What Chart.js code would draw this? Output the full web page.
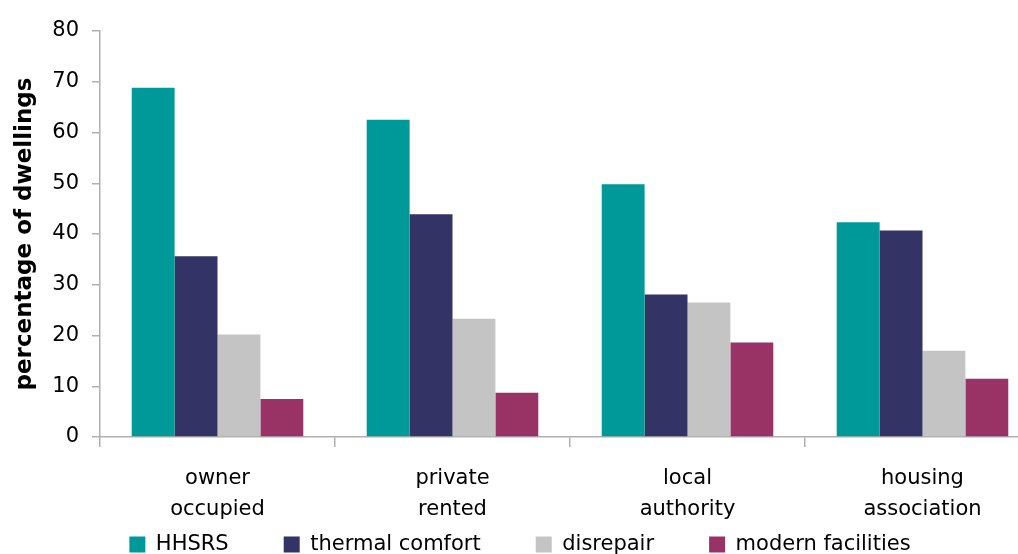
<!DOCTYPE html>
<html>
<head>
<meta charset="utf-8">
<script src="https://cdn.jsdelivr.net/npm/chart.js@4/dist/chart.umd.min.js"></script>
<style>
    html, body { margin: 0; padding: 0; background: #fff; overflow: hidden; }
    #wrap { width: 1018px; height: 554px; overflow: hidden; }
</style>
</head>
<body>
<div id="wrap">
    <canvas id="chart" width="1045" height="554"></canvas>
</div>
<script>
const categories = [["owner", "occupied"], ["private", "rented"], ["local", "authority"], ["housing", "association"]];
const seriesNames = ["HHSRS", "thermal comfort", "disrepair", "modern facilities"];
const hhsrs = [68.8, 62.5, 49.8, 42.3];
const thermalComfort = [35.6, 43.9, 28.1, 40.7];
const disrepair = [20.2, 23.3, 26.5, 17.0];
const modernFacilities = [7.5, 8.7, 18.6, 11.5];
const yTicks = [0, 10, 20, 30, 40, 50, 60, 70, 80];

const colors = ["#009999", "#333366", "#c4c4c4", "#993366"];
const axisColor = "#b0b0b0";
const fontFamily = "'DejaVu Sans', 'Liberation Sans', Arial, sans-serif";

// legend row sits low in the picture, below the two-line category labels
const legendOffset = {
    id: "legendOffset",
    afterLayout(chart) {
        chart.legend.top = 479;
        chart.legend.bottom = 560;
    }
};

document.addEventListener("DOMContentLoaded", () => {
    const values = [hhsrs, thermalComfort, disrepair, modernFacilities];
    const ctx = document.getElementById("chart").getContext("2d");

    new Chart(ctx, {
        type: "bar",
        data: {
            labels: categories,
            datasets: seriesNames.map((name, i) => ({
                label: name,
                data: values[i],
                backgroundColor: colors[i],
                borderWidth: 0,
                categoryPercentage: 0.73,
                barPercentage: 1.0
            }))
        },
        plugins: [legendOffset],
        options: {
            responsive: false,
            animation: false,
            layout: { padding: { top: 31, left: 0, right: 5, bottom: 0 } },
            plugins: {
                legend: {
                    position: "bottom",
                    maxHeight: 33,
                    labels: {
                        boxWidth: 16,
                        boxHeight: 16,
                        padding: 55,
                        color: "#000",
                        font: { family: fontFamily, size: 21 }
                    }
                },
                tooltip: { enabled: false }
            },
            scales: {
                x: {
                    afterFit: (scale) => { scale.height = 84; },
                    border: { color: axisColor, width: 1.5 },
                    grid: {
                        offset: true,
                        drawOnChartArea: false,
                        tickLength: 10,
                        color: axisColor,
                        lineWidth: 1.5
                    },
                    ticks: {
                        color: "#000",
                        padding: 16,
                        maxRotation: 0,
                        font: { family: fontFamily, size: 21, lineHeight: 1.48 }
                    }
                },
                y: {
                    min: 0,
                    max: 80,
                    afterFit: (scale) => { scale.width = 100; },
                    afterBuildTicks: (scale) => { scale.ticks = yTicks.map((v) => ({ value: v })); },
                    border: { color: axisColor, width: 1.5 },
                    grid: {
                        drawOnChartArea: false,
                        tickLength: 8,
                        color: axisColor,
                        lineWidth: 1.5
                    },
                    ticks: {
                        color: "#000",
                        padding: 13,
                        font: { family: fontFamily, size: 21 }
                    },
                    title: {
                        display: true,
                        text: "percentage of dwellings",
                        color: "#000",
                        padding: { top: 11, bottom: 0 },
                        font: { family: fontFamily, size: 23, weight: "bold" }
                    }
                }
            }
        }
    });
});
</script>
</body>
</html>
